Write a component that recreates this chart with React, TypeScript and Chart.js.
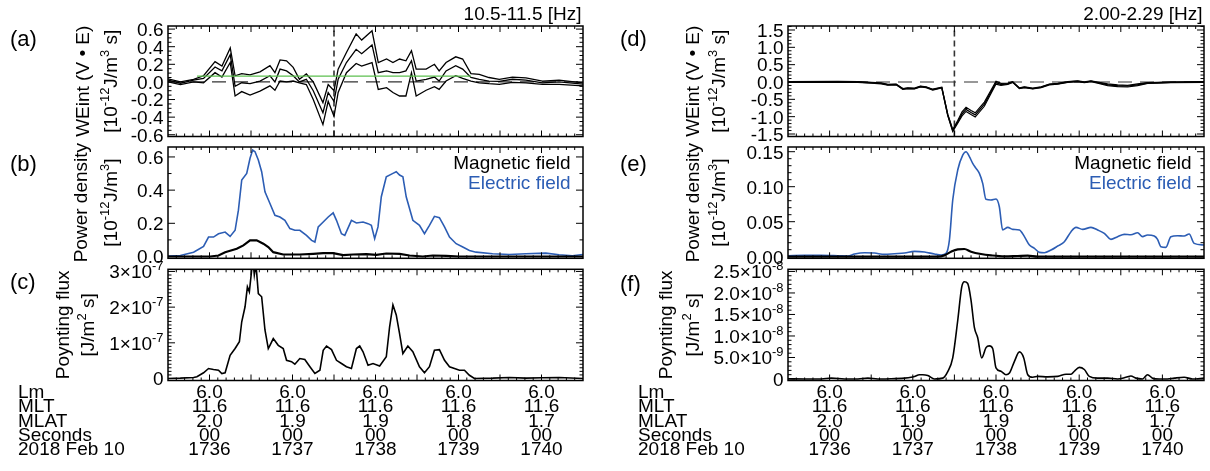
import React, { useEffect, useRef } from "react";
import { Chart, registerables } from "chart.js";
Chart.register(...registerables);

const W = 1210, H = 471;
const FONT = '"Liberation Sans", Arial, Helvetica, sans-serif';
const FS = 19;
const BLUE = "#2c5db4";
const GREEN = "#5cbf4f";

// x axis: seconds after 17:36:00 UT (2018 Feb 10)
const X_MIN = -30, X_MAX = 270;
const X_MAJOR = 30, X_MINOR = 6;
const LABEL_TICKS = [0, 60, 120, 180, 240];
const ROW_NAMES = ["Lm", "MLT", "MLAT", "Seconds", "2018 Feb 10"];
const LM = ["6.0", "6.0", "6.0", "6.0", "6.0"];
const MLT = ["11.6", "11.6", "11.6", "11.6", "11.6"];
const MLAT = ["2.0", "1.9", "1.9", "1.8", "1.7"];
const SECS = ["00", "00", "00", "00", "00"];
const HHMM = ["1736", "1737", "1738", "1739", "1740"];
const EVENT_T = 90;
const GREEN_T = [-9, 189];
const GREEN_V = [0.065, 0.065];

// (a) WEint 10.5-11.5 Hz  [1e-12 J/m^3 s]
const A_T = [-30, -21, -11.5, -4.3, 4, 9, 15, 18.5, 23.3, 29.3, 36.5, 43.7, 47.3, 51, 55.7, 60.5, 65, 70, 75, 82, 85.8, 90, 93, 99, 106, 110, 117.5, 122, 128, 132.6, 137.4, 142, 146, 149.4, 156.6, 162.6, 166, 171, 178, 183, 189, 195, 202, 209.5, 219, 228.7, 240.7, 252.7, 270];
const A_MID = [0.02, -0.015, 0.02, 0.04, 0.17, 0.125, 0.31, -0.05, -0.01, -0.02, 0.01, 0.07, 0.0, 0.145, 0.125, 0.07, 0.0, 0.03, -0.1, -0.35, -0.12, -0.22, 0.03, 0.22, 0.37, 0.32, 0.42, 0.105, 0.125, 0.105, 0.105, 0.125, 0.24, 0.01, 0.03, 0.055, 0.01, 0.125, 0.185, 0.145, 0.05, 0.03, 0.01, 0.005, 0.03, 0.02, -0.01, 0.0, -0.025];
const A_UP = [0.035, 0.0, 0.03, 0.07, 0.23, 0.18, 0.385, 0.07, 0.095, 0.08, 0.115, 0.185, 0.105, 0.25, 0.24, 0.165, 0.03, 0.09, 0.0, -0.235, -0.03, -0.1, 0.145, 0.335, 0.545, 0.475, 0.58, 0.22, 0.26, 0.22, 0.26, 0.24, 0.355, 0.145, 0.145, 0.2, 0.125, 0.22, 0.285, 0.26, 0.095, 0.085, 0.05, 0.03, 0.055, 0.045, 0.01, 0.02, -0.01];
const A_LO = [0.0, -0.03, 0.0, -0.01, 0.105, 0.055, 0.22, -0.16, -0.11, -0.15, -0.105, -0.045, -0.095, 0.01, 0.0, 0.01, -0.01, -0.03, -0.2, -0.485, -0.22, -0.39, -0.12, 0.105, 0.21, 0.18, 0.22, -0.085, -0.065, -0.12, -0.16, -0.16, 0.105, -0.16, -0.095, -0.055, -0.085, 0.01, 0.07, 0.04, 0.01, -0.01, -0.02, -0.027, -0.005, -0.01, -0.027, -0.027, -0.045];

// (b) power density 10.5-11.5 Hz [1e-12 J/m^3]
const B_T = [-30, -21.1, -11.5, -4.3, -0.7, 2.9, 6.5, 11.3, 14.9, 18.5, 20.9, 23.3, 26.9, 29.3, 31.2, 32.9, 35.3, 37.7, 40.1, 43.7, 47.3, 50.9, 54.5, 58.1, 61.7, 65.3, 70.1, 73.8, 76.2, 78.6, 82.2, 85.8, 89.4, 91.8, 95.4, 97.8, 102.6, 106.2, 111.0, 114.6, 117.0, 119.4, 121.8, 124.2, 127.8, 132.6, 135.0, 137.4, 139.8, 142.2, 147.0, 151.8, 155.4, 159.0, 162.6, 166.2, 169.9, 173.5, 178.3, 183.1, 187.9, 192.7, 204.7, 216.7, 228.7, 243.1, 252.7, 262.3, 270];
const B_ELEC = [0.002, 0.006, 0.026, 0.061, 0.117, 0.117, 0.137, 0.147, 0.121, 0.158, 0.279, 0.461, 0.501, 0.592, 0.642, 0.632, 0.582, 0.511, 0.39, 0.319, 0.248, 0.238, 0.218, 0.168, 0.158, 0.158, 0.127, 0.097, 0.087, 0.178, 0.208, 0.238, 0.263, 0.218, 0.137, 0.127, 0.218, 0.202, 0.208, 0.198, 0.188, 0.107, 0.178, 0.36, 0.481, 0.501, 0.511, 0.491, 0.481, 0.36, 0.218, 0.188, 0.137, 0.188, 0.242, 0.234, 0.178, 0.117, 0.077, 0.057, 0.036, 0.026, 0.016, 0.012, 0.016, 0.02, 0.01, 0.004, 0.012];
const B_MAG_T = [-30, 0.5, 6.5, 11.3, 19.7, 24.5, 29.3, 34.1, 38.9, 42.5, 46.1, 53.3, 65.3, 75.0, 82.2, 89.4, 96.6, 103.8, 113.4, 120.6, 127.8, 137.4, 144.6, 154.2, 161.4, 171.0, 180.7, 190.3, 270];
const B_MAG = [0.0, 0.0, 0.006, 0.026, 0.046, 0.067, 0.097, 0.097, 0.077, 0.057, 0.026, 0.012, 0.012, 0.016, 0.02, 0.02, 0.008, 0.012, 0.014, 0.01, 0.018, 0.016, 0.006, 0.0, 0.006, 0.004, 0.0, 0.0, 0.0];

// (c) Poynting flux 10.5-11.5 Hz, in units of 1e-7 J/m^2 s
const C_T = [-30, -21.1, -11.5, -9.1, -4.3, -0.7, 2.9, 6.5, 8.9, 11.3, 14.9, 18.5, 21.6, 23.3, 25.7, 27.4, 28.8, 30.5, 31.7, 32.4, 33.6, 35.3, 37.7, 40.1, 42.5, 43.7, 46.1, 49.7, 53.3, 55.7, 59.3, 61.7, 65.3, 68.9, 72.6, 76.2, 79.8, 82.2, 84.6, 88.2, 91.8, 95.4, 99.0, 102.6, 106.2, 108.6, 111.0, 114.6, 118.2, 123.0, 127.8, 130.2, 132.6, 135.0, 137.4, 139.8, 143.4, 147.0, 151.8, 155.4, 159.0, 162.6, 166.2, 169.9, 173.5, 177.1, 180.7, 184.3, 187.9, 191.5, 204.7, 216.7, 228.7, 240.7, 252.7, 270];
const C_FLUX = [0.0, 0.01, 0.03, 0.05, 0.16, 0.28, 0.25, 0.23, 0.14, 0.16, 0.65, 0.84, 1.03, 1.59, 2.01, 2.57, 2.43, 3.04, 3.2, 2.9, 3.2, 2.38, 2.29, 1.36, 0.84, 0.93, 1.12, 0.93, 0.84, 0.51, 0.47, 0.4, 0.56, 0.53, 0.33, 0.14, 0.23, 0.79, 0.91, 0.81, 0.51, 0.42, 0.33, 0.28, 0.84, 0.91, 0.75, 0.37, 0.42, 0.35, 0.61, 1.45, 2.06, 1.78, 1.26, 0.7, 0.91, 0.75, 0.33, 0.16, 0.33, 0.79, 0.81, 0.51, 0.33, 0.28, 0.23, 0.23, 0.09, 0.0, 0.01, 0.03, 0.01, 0.02, 0.03, 0.0];

// (d) WEint 2.00-2.29 Hz
const D_T = [-30, 6, 20.4, 30, 37.2, 42, 48, 52.8, 56.4, 61.2, 65.5, 69.6, 74.4, 80.9, 85.2, 88.8, 92.4, 95.5, 98.4, 102, 105, 111.6, 120, 123.6, 128.5, 132, 136.9, 140.5, 146.5, 152.5, 158.5, 164.5, 171.7, 178.9, 183.7, 188.5, 193.3, 200.5, 207.7, 214.9, 222.1, 229.3, 236.5, 246.1, 270];
const D_MID = [0.0, 0.01, 0.0, -0.02, -0.04, -0.08, -0.07, -0.2, -0.18, -0.19, -0.13, -0.15, -0.22, -0.16, -0.95, -1.4, -1.15, -0.92, -0.79, -0.88, -0.95, -0.64, -0.02, -0.07, -0.05, 0.0, -0.18, -0.15, -0.19, -0.15, -0.07, -0.05, 0.0, 0.02, -0.01, 0.02, -0.02, -0.08, -0.11, -0.12, -0.08, -0.03, -0.02, -0.01, 0.0];
const D_UP = [0.012, 0.022, 0.012, -0.008, -0.028, -0.068, -0.058, -0.188, -0.168, -0.178, -0.118, -0.138, -0.208, -0.148, -0.93, -1.37, -1.11, -0.86, -0.73, -0.82, -0.89, -0.58, 0.02, -0.04, -0.03, 0.012, -0.168, -0.138, -0.178, -0.138, -0.058, -0.038, 0.012, 0.032, 0.002, 0.032, -0.005, -0.055, -0.085, -0.095, -0.055, -0.018, -0.008, 0.002, 0.012];
const D_LO = [-0.012, -0.002, -0.012, -0.032, -0.052, -0.092, -0.082, -0.212, -0.192, -0.202, -0.142, -0.162, -0.232, -0.172, -0.97, -1.43, -1.19, -0.98, -0.85, -0.94, -1.01, -0.7, -0.06, -0.1, -0.07, -0.012, -0.192, -0.162, -0.202, -0.162, -0.082, -0.062, -0.012, 0.008, -0.022, 0.008, -0.035, -0.105, -0.135, -0.145, -0.105, -0.042, -0.032, -0.022, -0.012];

// (e) power density 2.00-2.29 Hz
const E_T = [-30, -18, -6, 6, 13.2, 18, 25.2, 32.4, 39.6, 46.8, 54, 61.2, 68.4, 75.6, 80.4, 84, 86.4, 88.8, 92.4, 96, 98.4, 100.8, 103.2, 105.6, 108, 110.4, 112.8, 116.4, 120, 122.4, 124.8, 128.5, 132.1, 136.9, 140.5, 144.1, 147.7, 151.3, 154.9, 159.7, 164.5, 169.3, 174.1, 177.7, 182.5, 188.5, 193.3, 198.1, 202.9, 207.7, 212.5, 217.3, 222.1, 225.7, 229.3, 234.1, 236.5, 238.9, 242.5, 246.1, 250.9, 255.7, 259.3, 262.9, 270];
const E_ELEC = [0.0014, 0.0019, 0.0019, 0.0014, 0.001, 0.0038, 0.0057, 0.0052, 0.0033, 0.0043, 0.0052, 0.0076, 0.0067, 0.0038, 0.0024, 0.0048, 0.0238, 0.081, 0.1238, 0.1452, 0.15, 0.1429, 0.1333, 0.1262, 0.119, 0.1048, 0.0819, 0.081, 0.0824, 0.0714, 0.0381, 0.0419, 0.039, 0.0381, 0.0286, 0.0167, 0.0119, 0.0062, 0.0057, 0.0095, 0.0152, 0.0214, 0.0357, 0.0419, 0.039, 0.0419, 0.0381, 0.0333, 0.0248, 0.0286, 0.0319, 0.0314, 0.0343, 0.0286, 0.031, 0.0295, 0.0248, 0.0143, 0.0133, 0.0286, 0.03, 0.0295, 0.0324, 0.019, 0.0167];
const E_MAG_T = [-30, 78, 82.8, 87.6, 92.4, 97.2, 102, 109.2, 116.4, 126, 135.7, 142.9, 150.1, 270];
const E_MAG = [0, 0, 0.0019, 0.0071, 0.0105, 0.011, 0.0071, 0.0038, 0.0019, 0.0005, 0.001, 0.0014, 0, 0];

// (f) Poynting flux 2.00-2.29 Hz, in units of 1e-8 J/m^2 s
const F_T = [-30, -18, -6, 1.2, 10.8, 20.4, 27.6, 34.8, 44.4, 54, 58.8, 61.2, 64.8, 67.2, 70.8, 75.6, 81.6, 85.2, 88.8, 92.4, 95.3, 97.2, 99.6, 102, 104.4, 106.8, 109.7, 112.8, 115.2, 117.6, 120, 123.6, 127.2, 129.7, 133.3, 136.9, 140, 142.9, 146.5, 150.1, 157.3, 164.5, 170.5, 174.1, 176.5, 180.1, 183.7, 187.3, 193.3, 200.5, 207.7, 213.7, 217.3, 220.9, 225.7, 229.3, 232.9, 237.7, 243.7, 248.5, 255.7, 261.7, 270];
const F_FLUX = [0.004, 0.0, 0.0, 0.02, 0.0, 0.0, 0.02, 0.0, 0.004, 0.02, 0.04, 0.06, 0.1, 0.1, 0.08, 0.0, 0.02, 0.17, 0.49, 1.36, 2.14, 2.26, 2.22, 1.83, 1.2, 0.96, 0.49, 0.73, 0.77, 0.71, 0.26, 0.18, 0.1, 0.14, 0.41, 0.63, 0.49, 0.1, 0.04, 0.06, 0.05, 0.06, 0.11, 0.11, 0.18, 0.27, 0.22, 0.06, 0.02, 0.02, 0.0, 0.04, 0.07, 0.02, 0.0, 0.1, 0.02, 0.0, 0.0, 0.02, 0.04, 0.0, 0.02];

// ---------- layout ----------
const COL_L = { left: 168, right: 583, rowX: 18, letterX: 10 };
const COL_R = { left: 788, right: 1204, rowX: 638, letterX: 620 };
const ROWS = [{ top: 26, bottom: 136.5 }, { top: 147, bottom: 258.3 }, { top: 269.3, bottom: 380.5 }];
const ROW_Y0 = 391, ROW_DY = 14.4;

type Seg = { t: string; sup?: boolean };

const T_WEINT: Seg[] = [{ t: "WEint (V \u2022 E)" }];
const T_UNIT_A: Seg[] = [{ t: "[10" }, { t: "-12", sup: true }, { t: "J/m" }, { t: "3", sup: true }, { t: " s]" }];
const T_PD: Seg[] = [{ t: "Power density" }];
const T_UNIT_B: Seg[] = [{ t: "[10" }, { t: "-12", sup: true }, { t: "J/m" }, { t: "3", sup: true }, { t: "]" }];
const T_PF: Seg[] = [{ t: "Poynting flux" }];
const T_UNIT_C: Seg[] = [{ t: "[J/m" }, { t: "2", sup: true }, { t: " s]" }];

const fmt = (d: number) => (v: number): Seg[] => [{ t: (Math.abs(v) < 1e-9 ? 0 : v).toFixed(d) }];
const expLabelC = (v: number): Seg[] =>
  Math.abs(v) < 1e-9 ? [{ t: "0" }] : [{ t: `${Math.round(v)}\u00d710` }, { t: "-7", sup: true }];
const expLabelF = (v: number): Seg[] => {
  if (Math.abs(v) < 1e-9) return [{ t: "0" }];
  if (Math.abs(v - 0.5) < 1e-6) return [{ t: "5.0\u00d710" }, { t: "-9", sup: true }];
  return [{ t: `${v.toFixed(1)}\u00d710` }, { t: "-8", sup: true }];
};

function drawRich(ctx: CanvasRenderingContext2D, segs: Seg[], x: number, yc: number, align: string, size: number) {
  const base = `${size}px ${FONT}`;
  const supS = size * 0.68;
  const sup = `${supS}px ${FONT}`;
  let w = 0;
  const widths = segs.map((s) => {
    ctx.font = s.sup ? sup : base;
    const m = ctx.measureText(s.t).width;
    w += m;
    return m;
  });
  let cx = align === "left" ? x : align === "right" ? x - w : x - w / 2;
  const bl = yc + 0.36 * size;
  ctx.textAlign = "left";
  ctx.textBaseline = "alphabetic";
  segs.forEach((s, i) => {
    ctx.font = s.sup ? sup : base;
    ctx.fillText(s.t, cx, s.sup ? bl - size * 0.42 : bl);
    cx += widths[i];
  });
}

function txt(ctx: CanvasRenderingContext2D, s: string, x: number, yc: number, align: CanvasTextAlign, size: number, color = "#000") {
  ctx.font = `${size}px ${FONT}`;
  ctx.fillStyle = color;
  ctx.textAlign = align;
  ctx.textBaseline = "alphabetic";
  ctx.fillText(s, x, yc + 0.36 * size);
}

const pts = (xs: number[], ys: number[]) => xs.map((x, i) => ({ x, y: ys[i] }));
const ln = (data: any[], color: string, width: number, extra: any = {}) => ({
  data, borderColor: color, borderWidth: width, pointRadius: 0, fill: false, tension: 0, ...extra,
});
const zeroLine = () => ln(pts([X_MIN, X_MAX], [0, 0]), "#333", 1.2, { borderDash: [14, 8] });
const eventLine = (y0: number, y1: number) => ln(pts([EVENT_T, EVENT_T], [y0, y1]), "#333", 1.6, { borderDash: [6, 4] });

const PANELS: any[] = [
  {
    col: COL_L, row: ROWS[0], letter: "(a)", letterY: 38, yMin: -0.62, yMax: 0.635, yMajor: 0.2, yMinor: 0.05,
    yLabel: fmt(1), title1: T_WEINT, title2: T_UNIT_A, t1x: 82, t2x: 110, freq: "10.5-11.5 [Hz]",
    datasets: [
      ln(pts(GREEN_T, GREEN_V), GREEN, 1.2),
      ln(pts(A_T, A_UP), "#000", 1.3),
      ln(pts(A_T, A_MID), "#000", 1.3),
      ln(pts(A_T, A_LO), "#000", 1.3),
      zeroLine(),
      eventLine(-0.62, 0.635),
    ],
  },
  {
    col: COL_L, row: ROWS[1], letter: "(b)", letterY: 163, yMin: -0.011, yMax: 0.66, yMajor: 0.2, yMinor: 0.1,
    yLabel: fmt(1), title1: T_PD, title2: T_UNIT_B, t1x: 80, t2x: 110, legend: true,
    datasets: [
      ln(pts(B_MAG_T, B_MAG), "#000", 2.2),
      ln(pts(B_T, B_ELEC), BLUE, 1.6),
    ],
  },
  {
    col: COL_L, row: ROWS[2], letter: "(c)", letterY: 281, yMin: -0.056, yMax: 3.06, yMajor: 1, yMinor: 0.1,
    yLabel: expLabelC, title1: T_PF, title2: T_UNIT_C, t1x: 62, t2x: 87, bottomRows: true,
    datasets: [ln(pts(C_T, C_FLUX), "#000", 1.6)],
  },
  {
    col: COL_R, row: ROWS[0], letter: "(d)", letterY: 38, yMin: -1.572, yMax: 1.615, yMajor: 0.5, yMinor: 0.1,
    yLabel: fmt(1), title1: T_WEINT, title2: T_UNIT_A, t1x: 692, t2x: 718, freq: "2.00-2.29 [Hz]",
    datasets: [
      ln(pts(D_T, D_UP), "#000", 1.2),
      ln(pts(D_T, D_MID), "#000", 1.4),
      ln(pts(D_T, D_LO), "#000", 1.2),
      zeroLine(),
      eventLine(-1.572, 1.615),
    ],
  },
  {
    col: COL_R, row: ROWS[1], letter: "(e)", letterY: 163, yMin: -0.0023, yMax: 0.1567, yMajor: 0.05, yMinor: 0.01,
    yLabel: fmt(2), title1: T_PD, title2: T_UNIT_B, t1x: 692, t2x: 718, legend: true,
    datasets: [
      ln(pts(E_MAG_T, E_MAG), "#000", 2.2, { cubicInterpolationMode: "monotone" }),
      ln(pts(E_T, E_ELEC), BLUE, 1.6, { cubicInterpolationMode: "monotone" }),
    ],
  },
  {
    col: COL_R, row: ROWS[2], letter: "(f)", letterY: 283, yMin: -0.035, yMax: 2.55, yMajor: 0.5, yMinor: 0.1,
    yLabel: expLabelF, title1: T_PF, title2: T_UNIT_C, t1x: 665, t2x: 692, bottomRows: true,
    datasets: [ln(pts(F_T, F_FLUX), "#000", 1.6, { cubicInterpolationMode: "monotone" })],
  },
];

function makeChart(canvas: HTMLCanvasElement, p: any) {
  const plugin = {
    id: "idlframe",
    afterDraw(chart: any) {
      const ctx: CanvasRenderingContext2D = chart.ctx;
      const { left, right, top, bottom } = chart.chartArea;
      const xs = chart.scales.x, ys = chart.scales.y;
      ctx.save();
      ctx.strokeStyle = "#000";
      ctx.lineWidth = 1;
      ctx.beginPath();
      const nx = Math.round((X_MAX - X_MIN) / X_MINOR);
      for (let k = 1; k < nx; k++) {
        const v = X_MIN + k * X_MINOR;
        const px = xs.getPixelForValue(v);
        const len = (v - X_MIN) % X_MAJOR === 0 ? 6 : 3;
        ctx.moveTo(px, bottom); ctx.lineTo(px, bottom - len);
        ctx.moveTo(px, top); ctx.lineTo(px, top + len);
      }
      const ratio = Math.round(p.yMajor / p.yMinor);
      const k0 = Math.ceil(p.yMin / p.yMinor - 1e-6), k1 = Math.floor(p.yMax / p.yMinor + 1e-6);
      const labels: number[][] = [];
      for (let k = k0; k <= k1; k++) {
        const v = k * p.yMinor;
        const py = ys.getPixelForValue(v);
        const major = Math.abs(k) % ratio === 0;
        const len = major ? 7 : 3.5;
        ctx.moveTo(left, py); ctx.lineTo(left + len, py);
        ctx.moveTo(right, py); ctx.lineTo(right - len, py);
        if (major) labels.push([v, py]);
      }
      ctx.stroke();
      ctx.lineWidth = 1.5;
      ctx.strokeRect(left, top, right - left, bottom - top);
      ctx.fillStyle = "#000";
      labels.forEach(([v, py]) => drawRich(ctx, p.yLabel(v), left - 4.5, py, "right", FS));
      const yc = (top + bottom) / 2;
      [[p.title1, p.t1x], [p.title2, p.t2x]].forEach(([segs, tx]: any) => {
        ctx.save();
        ctx.translate(tx, yc);
        ctx.rotate(-Math.PI / 2);
        drawRich(ctx, segs, 0, 0, "center", FS);
        ctx.restore();
      });
      txt(ctx, p.letter, p.col.letterX, p.letterY, "left", 22);
      if (p.freq) txt(ctx, p.freq, right - 1.5, 13.5, "right", FS);
      if (p.legend) {
        txt(ctx, "Magnetic field", right - 12.5, top + 15, "right", FS, "#000");
        txt(ctx, "Electric field", right - 12.5, top + 35, "right", FS, BLUE);
      }
      if (p.bottomRows) {
        const rows = [LM, MLT, MLAT, SECS, HHMM];
        rows.forEach((row, r) => {
          const y = ROW_Y0 + r * ROW_DY;
          txt(ctx, ROW_NAMES[r], p.col.rowX, y, "left", FS);
          LABEL_TICKS.forEach((t, i) => txt(ctx, row[i], xs.getPixelForValue(t), y, "center", FS));
        });
      }
      ctx.restore();
    },
  };
  return new Chart(canvas, {
    type: "line",
    data: { datasets: p.datasets },
    options: {
      responsive: false,
      animation: false,
      events: [],
      layout: {
        padding: { left: p.col.left, right: W - p.col.right, top: p.row.top, bottom: H - p.row.bottom },
      },
      plugins: { legend: { display: false }, tooltip: { enabled: false }, title: { display: false } },
      scales: {
        x: { type: "linear", min: X_MIN, max: X_MAX, display: false },
        y: { type: "linear", min: p.yMin, max: p.yMax, display: false },
      },
      elements: { point: { radius: 0 } },
    },
    plugins: [plugin],
  } as any);
}

export default function App() {
  const refs = useRef<(HTMLCanvasElement | null)[]>([]);
  useEffect(() => {
    const charts = PANELS.map((p, i) => makeChart(refs.current[i] as HTMLCanvasElement, p));
    return () => charts.forEach((c) => c.destroy());
  }, []);
  return (
    <div style={{ position: "absolute", left: 0, top: 0, width: W, height: H, background: "#fff" }}>
      {PANELS.map((_, i) => (
        <canvas
          key={i}
          ref={(el) => { refs.current[i] = el; }}
          width={W}
          height={H}
          style={{ position: "absolute", left: 0, top: 0, width: W, height: H }}
        />
      ))}
    </div>
  );
}
